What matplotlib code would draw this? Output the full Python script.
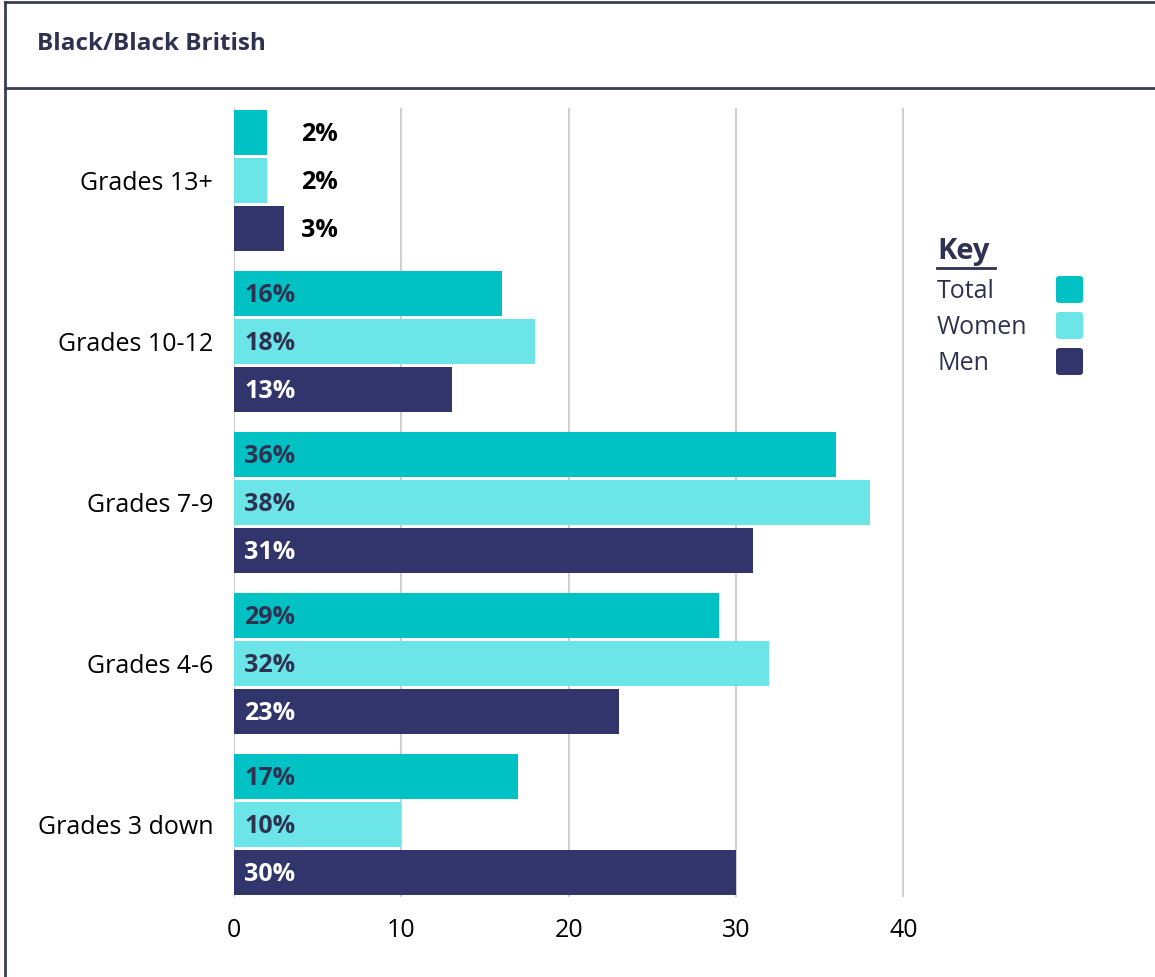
import numpy as np
import matplotlib.pyplot as plt
from matplotlib.patches import FancyBboxPatch
from matplotlib.lines import Line2D

plt.rcParams['font.family'] = ['Open Sans', 'DejaVu Sans']

categories = ["Grades 13+", "Grades 10-12", "Grades 7-9", "Grades 4-6", "Grades 3 down"]
series = ["Total", "Women", "Men"]
total = [2, 16, 36, 29, 17]
women = [2, 18, 38, 32, 10]
men = [3, 13, 31, 23, 30]
xticks = [0, 10, 20, 30, 40]

colors = ["#00C1C3", "#6CE5E8", "#31356B"]
label_colors = ["#2E3250", "#2E3250", "white"]
dark = "#2E3250"

fig = plt.figure(figsize=(11.55, 9.77), dpi=100)
W, H = 1155, 977

# frame + header
fig.add_artist(Line2D([5 / W, 5 / W], [0, 1 - 2 / H], color="#3a3d55", lw=2, transform=fig.transFigure))
fig.add_artist(Line2D([5 / W, 1], [1 - 2 / H, 1 - 2 / H], color="#3a3d55", lw=2, transform=fig.transFigure))
fig.add_artist(Line2D([5 / W, 1], [1 - 88 / H, 1 - 88 / H], color="#3a3d55", lw=2, transform=fig.transFigure))
fig.text(37 / W, 1 - 44 / H, "Black/Black British", fontsize=17.5, fontweight="bold",
         color=dark, va="center", ha="left")

ax = fig.add_axes([234 / W, 80 / H, (905 - 234) / W, 789 / H])

step = 48 / 161
height = 45 / 161
y = np.arange(len(categories))
for k, vals in enumerate([total, women, men]):
    pos = y + (k - 1) * step
    ax.barh(pos, vals, height=height, color=colors[k], zorder=3)
    for p, v in zip(pos, vals):
        if v < 5:
            ax.text(4, p + 0.012, f"{v}%", ha="left", va="center", fontsize=18,
                    fontweight="bold", color="black", zorder=4)
        else:
            ax.text(0.6, p + 0.012, f"{v}%", ha="left", va="center", fontsize=18,
                    fontweight="bold", color=label_colors[k], zorder=4)

ax.set_ylim(4.45, -0.45)
ax.set_xlim(0, 40.1)
ax.set_yticks(y)
ax.set_yticklabels(categories, fontsize=18)
ax.set_xticks(xticks)
ax.set_xticklabels([str(t) for t in xticks], fontsize=18)
ax.tick_params(length=0)
ax.tick_params(axis="y", pad=15)
ax.tick_params(axis="x", pad=15)
for s in ax.spines.values():
    s.set_visible(False)
ax.grid(axis="x", color="#d0d0d0", lw=1.5, zorder=0)
ax.set_axisbelow(True)

# key
fig.text(937 / W, 1 - 252 / H, "Key", fontsize=21, fontweight="bold", color=dark,
         va="center", ha="left")
fig.add_artist(Line2D([937 / W, 995 / W], [1 - 268 / H, 1 - 268 / H], color=dark, lw=2,
                      transform=fig.transFigure))
for k, name in enumerate(series):
    yc = 290 + 36 * k
    fig.text(937 / W, 1 - (yc + 2) / H, name, fontsize=18, color=dark, va="center", ha="left")
    fig.add_artist(FancyBboxPatch((1056 / W, 1 - (yc + 13) / H), 27 / W, 27 / H,
                                  boxstyle="round,pad=0,rounding_size=0.003",
                                  facecolor=colors[k], edgecolor="none",
                                  transform=fig.transFigure))

fig.savefig("out.png", dpi=100)
